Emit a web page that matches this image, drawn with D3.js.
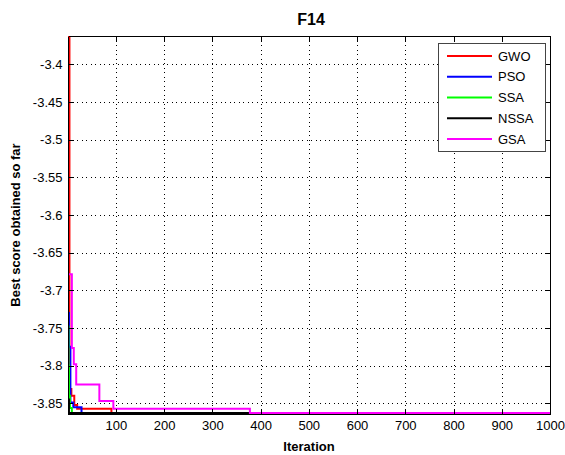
<!DOCTYPE html>
<html>
<head>
<meta charset="utf-8">
<script src="https://cdn.jsdelivr.net/npm/d3@7"></script>
<style>
  body { margin: 0; background: #fff; }
  svg text { font-family: "Liberation Sans", Arial, sans-serif; fill: #000; }
</style>
</head>
<body>
<div id="chart"></div>
<script>
// series: iteration where the best score changes, and the value from there on
var gwoIter = [1, 4, 8, 14, 20, 91, 1000];
var gwoVal  = [-3.3627, -3.831, -3.840, -3.852, -3.857, -3.8628, -3.8628];

var psoIter = [1, 3, 6, 12, 29, 1000];
var psoVal  = [-3.730, -3.775, -3.849, -3.855, -3.8628, -3.8628];

var ssaIter = [1, 2, 3, 5, 9, 1000];
var ssaVal  = [-3.748, -3.800, -3.840, -3.856, -3.8628, -3.8628];

var nssaIter = [1, 3, 1000];
var nssaVal  = [-3.845, -3.8628, -3.8628];

var gsaIter = [1, 9, 13, 18, 66, 95, 378, 1000];
var gsaVal  = [-3.6786, -3.7766, -3.798, -3.825, -3.8468, -3.857, -3.8628, -3.8628];

var names  = ["GWO", "PSO", "SSA", "NSSA", "GSA"];
var colors = ["#ff0000", "#0000ff", "#00ff00", "#000000", "#ff00ff"];

var xTicks = [100, 200, 300, 400, 500, 600, 700, 800, 900, 1000];
var yTicks = [-3.4, -3.45, -3.5, -3.55, -3.6, -3.65, -3.7, -3.75, -3.8, -3.85];

var series = [
  [gwoIter, gwoVal], [psoIter, psoVal], [ssaIter, ssaVal],
  [nssaIter, nssaVal], [gsaIter, gsaVal]
].map(function(s, i) {
  return { name: names[i], color: colors[i],
           pts: s[0].map(function(it, j) { return [it, s[1][j]]; }) };
});

// canvas / plot box
var W = 565, H = 455;
var pLeft = 68, pRight = 550, pTop = 36, pBottom = 414;

var svg = d3.select("#chart").append("svg")
  .attr("width", W).attr("height", H);

var x = d3.scaleLinear().domain([1, 1000]).range([pLeft, pRight]);
var y = d3.scaleLinear().domain([-3.8641, -3.3624]).range([pBottom, pTop]);

// grid
var grid = svg.append("g").attr("stroke", "#000").attr("stroke-width", 1)
  .attr("stroke-dasharray", "1,3.5").attr("shape-rendering", "crispEdges");
xTicks.forEach(function(t) {
  grid.append("line").attr("x1", Math.round(x(t)) + 0.5).attr("x2", Math.round(x(t)) + 0.5)
    .attr("y1", pTop).attr("y2", pBottom);
});
yTicks.forEach(function(t) {
  grid.append("line").attr("y1", Math.round(y(t)) + 0.5).attr("y2", Math.round(y(t)) + 0.5)
    .attr("x1", pLeft).attr("x2", pRight);
});

// lines
svg.append("clipPath").attr("id", "clip").append("rect")
  .attr("x", pLeft).attr("y", pTop).attr("width", pRight - pLeft).attr("height", pBottom - pTop + 1.5);

var line = d3.line()
  .x(function(d) { return x(d[0]); })
  .y(function(d) { return y(d[1]); })
  .curve(d3.curveStepAfter);

svg.append("g").attr("clip-path", "url(#clip)")
  .selectAll("path").data(series).enter().append("path")
  .attr("d", function(d) { return line(d.pts); })
  .attr("fill", "none")
  .attr("stroke", function(d) { return d.color; })
  .attr("stroke-width", 2);

// axes (ticks inside, box on)
function styleAxis(g) {
  g.selectAll("path, line").attr("stroke", "#000").attr("shape-rendering", "crispEdges");
  g.selectAll("text").attr("font-size", "13px").attr("fill", "#000")
    .attr("font-family", "'Liberation Sans', Arial, sans-serif");
}

svg.append("g").attr("transform", "translate(0," + pBottom + ")")
  .call(d3.axisBottom(x).tickValues(xTicks).tickSizeInner(-5).tickSizeOuter(0).tickPadding(7)
    .tickFormat(d3.format("d")))
  .call(styleAxis);
svg.append("g").attr("transform", "translate(0," + pTop + ")")
  .call(d3.axisTop(x).tickValues(xTicks).tickSizeInner(-5).tickSizeOuter(0).tickFormat(""))
  .call(styleAxis);
svg.append("g").attr("transform", "translate(" + pLeft + ",0)")
  .call(d3.axisLeft(y).tickValues(yTicks).tickSizeInner(-5).tickSizeOuter(0).tickPadding(5.5)
    .tickFormat(function(d) { return String(d); }))
  .call(styleAxis);
svg.append("g").attr("transform", "translate(" + pRight + ",0)")
  .call(d3.axisRight(y).tickValues(yTicks).tickSizeInner(-5).tickSizeOuter(0).tickFormat(""))
  .call(styleAxis);

// titles
svg.append("text").attr("x", (pLeft + pRight) / 2 + 2).attr("y", 25)
  .attr("text-anchor", "middle").attr("font-size", "16px").attr("font-weight", "bold").text("F14");
svg.append("text").attr("x", (pLeft + pRight) / 2).attr("y", 451)
  .attr("text-anchor", "middle").attr("font-size", "13px").attr("font-weight", "bold").text("Iteration");
svg.append("text").attr("transform", "translate(20," + ((pTop + pBottom) / 2) + ") rotate(-90)")
  .attr("text-anchor", "middle").attr("font-size", "13px").attr("font-weight", "bold")
  .text("Best score obtained so far");

// legend
var lg = svg.append("g");
lg.append("rect").attr("x", 438.5).attr("y", 43.5).attr("width", 107).attr("height", 108)
  .attr("fill", "#fff").attr("stroke", "#444").attr("stroke-width", 1);
series.forEach(function(s, i) {
  var yy = 56 + i * 20.75;
  lg.append("line").attr("x1", 447).attr("x2", 492).attr("y1", yy).attr("y2", yy)
    .attr("stroke", s.color).attr("stroke-width", 2);
  lg.append("text").attr("x", 498).attr("y", yy).attr("dy", "0.36em")
    .attr("font-size", "13px").text(s.name);
});
</script>
</body>
</html>
